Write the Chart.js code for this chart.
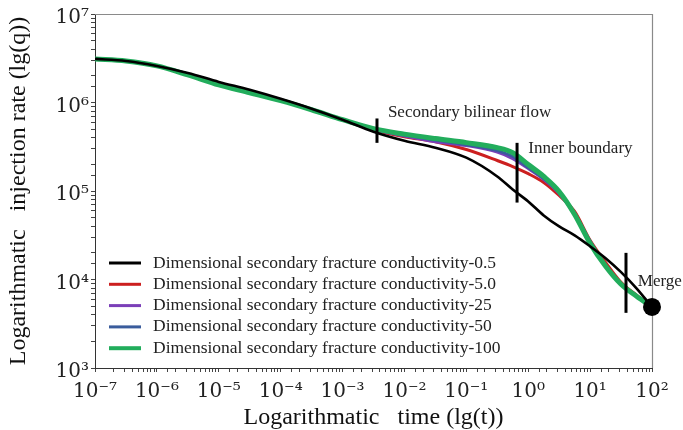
<!DOCTYPE html>
<html>
<head>
<meta charset="utf-8">
<script src="https://cdn.jsdelivr.net/npm/chart.js@4.4.1/dist/chart.umd.min.js"></script>
<style>
  html, body { margin: 0; padding: 0; background: #fff; }
  #wrap { width: 683px; height: 430px; }
</style>
</head>
<body>
<div id="wrap"><canvas id="rate_chart" width="683" height="430"></canvas></div>
<script>
// time samples (s)
var times = [1e-7, 3.16e-7, 1e-6, 3.16e-6, 1e-5, 3.16e-5, 1e-4, 3.16e-4, 1e-3, 3.16e-3,
             1e-2, 3.16e-2, 0.1, 0.316, 0.562, 1, 1.78, 3.16, 5.62, 10, 17.8, 31.6, 56.2, 100];

var labels = [
    "Dimensional secondary fracture conductivity-0.5",
    "Dimensional secondary fracture conductivity-5.0",
    "Dimensional secondary fracture conductivity-25",
    "Dimensional secondary fracture conductivity-50",
    "Dimensional secondary fracture conductivity-100"
];
var colors = ["#000000", "#cc1f1f", "#7b3fb8", "#3a5c9c", "#22ad5c"];

var rate05 = [3.11e6, 2.95e6, 2.59e6, 2.16e6, 1.71e6, 1.39e6, 1.10e6, 8.51e5, 6.39e5, 4.68e5,
              3.70e5, 3.09e5, 2.38e5, 1.46e5, 1.04e5, 7.62e4, 5.30e4, 3.98e4, 3.15e4, 2.37e4, 1.74e4, 1.21e4, 7.96e3, 4.9e3];
var rate5 = [3.11e6, 2.95e6, 2.59e6, 2.05e6, 1.58e6, 1.29e6, 1.05e6, 8.28e5, 6.39e5, 4.93e5,
             4.11e5, 3.61e5, 2.94e5, 2.21e5, 1.89e5, 1.57e5, 1.25e5, 8.90e4, 5.87e4, 2.77e4, 1.56e4, 9.31e3, 6.65e3, 4.9e3];
var rate25 = [3.11e6, 2.95e6, 2.59e6, 2.05e6, 1.58e6, 1.29e6, 1.05e6, 8.28e5, 6.39e5, 4.97e5,
              4.18e5, 3.61e5, 3.26e5, 2.75e5, 2.32e5, 1.79e5, 1.35e5, 9.37e4, 5.43e4, 2.63e4, 1.41e4, 8.83e3, 6.47e3, 4.9e3];
var rate50 = [3.11e6, 2.95e6, 2.59e6, 2.05e6, 1.58e6, 1.29e6, 1.05e6, 8.28e5, 6.39e5, 5.00e5,
              4.28e5, 3.76e5, 3.34e5, 2.86e5, 2.45e5, 1.84e5, 1.38e5, 9.61e4, 5.57e4, 2.70e4, 1.45e4, 8.83e3, 6.47e3, 4.9e3];
var rate100 = [3.11e6, 2.95e6, 2.59e6, 2.05e6, 1.58e6, 1.29e6, 1.05e6, 8.28e5, 6.39e5, 5.06e5,
               4.39e5, 3.91e5, 3.52e5, 3.09e5, 2.71e5, 1.99e5, 1.46e5, 9.87e4, 5.43e4, 2.56e4, 1.41e4, 8.83e3, 6.47e3, 4.9e3];

var xTickValues = [1e-7, 1e-6, 1e-5, 1e-4, 1e-3, 1e-2, 1e-1, 1, 10, 100];
var xTickLabels = ["10\u207B\u2077", "10\u207B\u2076", "10\u207B\u2075", "10\u207B\u2074", "10\u207B\u00B3",
                   "10\u207B\u00B2", "10\u207B\u00B9", "10\u2070", "10\u00B9", "10\u00B2"];
var yTickValues = [1e3, 1e4, 1e5, 1e6, 1e7];
var yTickLabels = ["10\u00B3", "10\u2074", "10\u2075", "10\u2076", "10\u2077"];

// flow regime markers
var barTimes = [3.6e-3, 0.66, 38];
var barTop = [6.6e5, 3.5e5, 2.0e4];
var barBottom = [3.5e5, 7.4e4, 4.2e3];
var mergePoint = {x: 100, y: 4.9e3};
var noteTexts = ["Secondary bilinear flow", "Inner boundary", "Merge"];
var noteTimes = [5.4e-3, 1.0, 59];
var noteRates = [7.65e5, 3.0e5, 9.5e3];

function tickLabel(value, values, names) {
    for (var i = 0; i < values.length; i++) {
        if (Math.abs(value - values[i]) < values[i] * 1e-6) return names[i];
    }
    return "";
}

function points(series) {
    return series.map(function (v, i) { return {x: times[i], y: v}; });
}

var serif = "'Liberation Serif', 'Times New Roman', serif";
var tickFont = "'DejaVu Serif', serif";

var markersPlugin = {
    id: 'markers',
    beforeDatasetsDraw: function (chart) {
        var ctx = chart.ctx, a = chart.chartArea;
        ctx.save();
        ctx.strokeStyle = '#8a8a8a';
        ctx.lineWidth = 1.2;
        ctx.beginPath();
        ctx.moveTo(a.left, a.top + 0.5);
        ctx.lineTo(a.right + 0.5, a.top + 0.5);
        ctx.lineTo(a.right + 0.5, a.bottom);
        ctx.stroke();
        ctx.restore();
    },
    afterDraw: function (chart) {
        var ctx = chart.ctx, x = chart.scales.x, y = chart.scales.y, a = chart.chartArea;
        ctx.save();
        ctx.strokeStyle = '#000';
        ctx.lineWidth = 3;
        for (var i = 0; i < barTimes.length; i++) {
            var px = x.getPixelForValue(barTimes[i]);
            ctx.beginPath();
            ctx.moveTo(px, y.getPixelForValue(barTop[i]));
            ctx.lineTo(px, y.getPixelForValue(barBottom[i]));
            ctx.stroke();
        }
        ctx.fillStyle = '#000';
        ctx.beginPath();
        ctx.arc(x.getPixelForValue(mergePoint.x), y.getPixelForValue(mergePoint.y), 9, 0, Math.PI * 2);
        ctx.fill();

        ctx.fillStyle = '#222';
        ctx.font = "17px " + serif;
        ctx.textBaseline = 'middle';
        ctx.textAlign = 'left';
        for (var j = 0; j < noteTexts.length; j++) {
            ctx.fillText(noteTexts[j], x.getPixelForValue(noteTimes[j]), y.getPixelForValue(noteRates[j]));
        }

        // legend inside plot, lower left
        var lx = a.left + 14, ly = a.bottom - 105;
        ctx.font = "17.5px " + serif;
        for (var k = 0; k < labels.length; k++) {
            var ry = ly + k * 21.3;
            ctx.strokeStyle = colors[k];
            ctx.lineWidth = k === 4 ? 4 : 3;
            ctx.beginPath();
            ctx.moveTo(lx, ry);
            ctx.lineTo(lx + 32, ry);
            ctx.stroke();
            ctx.fillStyle = '#222';
            ctx.fillText(labels[k], lx + 44, ry);
        }
        ctx.restore();
    }
};

function renderRateChart() {
    var context = document.getElementById("rate_chart").getContext('2d');
    var series = [rate05, rate5, rate25, rate50, rate100];
    var orders = [0, 4, 3, 2, 1];
    var widths = [2.6, 3, 3, 3, 5];

    var datasets = series.map(function (s, i) {
        return {
            label: labels[i],
            data: points(s),
            borderColor: colors[i],
            backgroundColor: colors[i],
            borderWidth: widths[i],
            pointRadius: 0,
            cubicInterpolationMode: 'monotone',
            fill: false,
            order: orders[i]
        };
    });

    new Chart(context, {
        type: 'line',
        data: {datasets: datasets},
        plugins: [markersPlugin],
        options: {
            responsive: false,
            animation: false,
            layout: {padding: {left: 0, right: 31, top: 13, bottom: 0}},
            plugins: {legend: {display: false}, tooltip: {enabled: false}},
            scales: {
                x: {
                    type: 'logarithmic',
                    min: 1e-7,
                    max: 100,
                    afterFit: function (scale) { scale.height = 62; },
                    grid: {drawOnChartArea: false, drawTicks: true, tickLength: 4, color: '#444'},
                    border: {display: true, color: '#333', width: 1},
                    ticks: {
                        autoSkip: false, maxRotation: 0, minRotation: 0, padding: 8,
                        color: '#222',
                        font: {family: tickFont, size: 20},
                        callback: function (v) { return tickLabel(v, xTickValues, xTickLabels); }
                    },
                    title: {
                        display: true,
                        text: 'Logarithmatic   time (lg(t))',
                        color: '#111',
                        font: {family: serif, size: 24, lineHeight: 1},
                        padding: {top: 0, bottom: 0}
                    }
                },
                y: {
                    type: 'logarithmic',
                    min: 1e3,
                    max: 1e7,
                    afterFit: function (scale) { scale.width = 95; },
                    grid: {drawOnChartArea: false, drawTicks: true, tickLength: 4, color: '#444'},
                    border: {display: true, color: '#333', width: 1},
                    ticks: {
                        autoSkip: false, padding: 2, labelOffset: 4,
                        color: '#222',
                        font: {family: tickFont, size: 20},
                        callback: function (v) { return tickLabel(v, yTickValues, yTickLabels); }
                    },
                    title: {
                        display: true,
                        text: 'Logarithmatic   injection rate (lg(q))',
                        color: '#111',
                        font: {family: serif, size: 24, lineHeight: 1.2},
                        padding: {top: 4, bottom: 4}
                    }
                }
            }
        }
    });
}

renderRateChart();
</script>
</body>
</html>
